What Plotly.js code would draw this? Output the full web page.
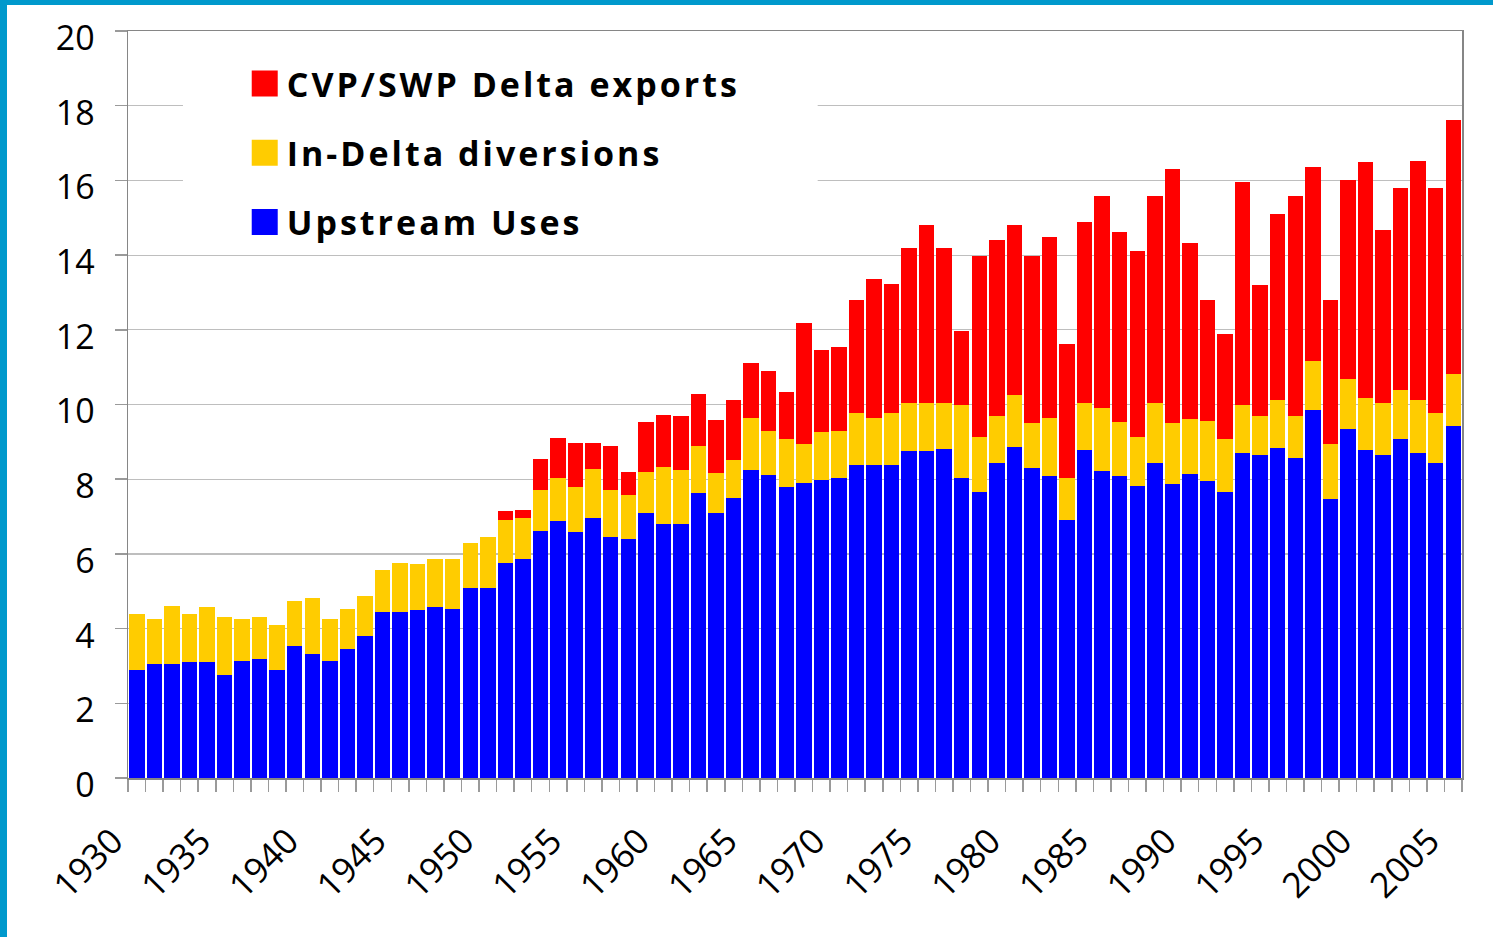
<!DOCTYPE html>
<html>
<head>
<meta charset="utf-8">
<script src="https://cdn.plot.ly/plotly-3.0.1.min.js"></script>
<style>
  html, body { margin: 0; padding: 0; background: #fff; }
  #chart { position: absolute; left: 0; top: 0; width: 1493px; height: 937px; }
  #frameTop { position: absolute; left: 0; top: 0; width: 1493px; height: 5px; background: #0099CC; }
  #frameLeft { position: absolute; left: 0; top: 0; width: 7px; height: 937px; background: #0099CC; }
  .legendtext { letter-spacing: 3px; }
</style>
</head>
<body>
<div id="chart"></div>
<div id="frameTop"></div>
<div id="frameLeft"></div>
<script>
// Years 1930 .. 2005
const years = [1930,1931,1932,1933,1934,1935,1936,1937,1938,1939,
               1940,1941,1942,1943,1944,1945,1946,1947,1948,1949,
               1950,1951,1952,1953,1954,1955,1956,1957,1958,1959,
               1960,1961,1962,1963,1964,1965,1966,1967,1968,1969,
               1970,1971,1972,1973,1974,1975,1976,1977,1978,1979,
               1980,1981,1982,1983,1984,1985,1986,1987,1988,1989,
               1990,1991,1992,1993,1994,1995,1996,1997,1998,1999,
               2000,2001,2002,2003,2004,2005];

const upstreamUses = [2.89,3.05,3.05,3.11,3.11,2.76,3.13,3.19,2.89,3.53,
                      3.32,3.13,3.45,3.80,4.44,4.44,4.50,4.58,4.52,5.09,
                      5.09,5.75,5.86,6.61,6.88,6.59,6.96,6.46,6.41,7.10,
                      6.80,6.80,7.62,7.10,7.49,8.25,8.12,7.78,7.91,7.97,
                      8.02,8.37,8.37,8.37,8.75,8.75,8.80,8.02,7.66,8.43,
                      8.86,8.30,8.09,6.91,8.78,8.22,8.09,7.82,8.43,7.87,
                      8.14,7.95,7.66,8.70,8.65,8.84,8.57,9.85,7.47,9.34,
                      8.78,8.65,9.08,8.70,8.43,9.42];

const inDeltaDiversions = [1.50,1.21,1.56,1.28,1.47,1.55,1.13,1.12,1.21,1.21,
                           1.50,1.13,1.07,1.07,1.13,1.31,1.22,1.29,1.35,1.21,
                           1.36,1.17,1.11,1.10,1.16,1.19,1.32,1.24,1.16,1.10,
                           1.53,1.45,1.27,1.07,1.02,1.38,1.16,1.29,1.03,1.30,
                           1.28,1.40,1.28,1.40,1.30,1.30,1.25,1.98,1.47,1.26,
                           1.39,1.21,1.55,1.12,1.26,1.69,1.43,1.32,1.61,1.64,
                           1.47,1.61,1.42,1.29,1.04,1.28,1.12,1.31,1.47,1.34,
                           1.39,1.39,1.31,1.42,1.34,1.39];

const deltaExports = [0,0,0,0,0,0,0,0,0,0,
                      0,0,0,0,0,0,0,0,0,0,
                      0,0.23,0.21,0.83,1.05,1.19,0.69,1.19,0.63,1.32,
                      1.40,1.45,1.40,1.41,1.62,1.49,1.62,1.26,3.23,2.19,
                      2.24,3.03,3.71,3.46,4.14,4.76,4.14,1.97,4.85,4.71,
                      4.56,4.47,4.84,3.59,4.85,5.67,5.10,4.97,5.54,6.80,
                      4.71,3.24,2.81,5.97,3.51,4.98,5.89,5.20,3.86,5.33,
                      6.32,4.63,5.41,6.40,6.03,6.81];

const seriesNames = ['Upstream Uses', 'In-Delta diversions', 'CVP/SWP Delta exports'];
const tickYears = [1930,1935,1940,1945,1950,1955,1960,1965,1970,1975,1980,1985,1990,1995,2000,2005];
const tickLabels = tickYears.map(String);
const yTicks = [0,2,4,6,8,10,12,14,16,18,20];

const traces = [
  {type:'bar', name: seriesNames[0], x: years, y: upstreamUses, marker:{color:'#0000FF'}, legendgroup:'a', legendrank:3},
  {type:'bar', name: seriesNames[1], x: years, y: inDeltaDiversions, marker:{color:'#FFCC00'}, legendgroup:'b', legendrank:2},
  {type:'bar', name: seriesNames[2], x: years, y: deltaExports, marker:{color:'#FF0000'}, legendgroup:'c', legendrank:1}
];

const layout = {
  width: 1493, height: 937,
  margin: {l:128, r:31, t:31, b:159},
  paper_bgcolor:'#fff', plot_bgcolor:'#fff',
  barmode:'stack', bargap: 0.12,
  font: {family:'"Open Sans", sans-serif', color:'#000'},
  showlegend: true,
  legend: {
    x: 0.086, y: 0.968, xanchor:'left', yanchor:'top',
    bgcolor:'rgba(0,0,0,0)', borderwidth:0,
    traceorder:'grouped', tracegroupgap: 22,
    itemwidth: 34,
    font:{family:'"Open Sans", sans-serif', size:34, color:'#000', weight:'bold'}
  },
  xaxis: {
    type:'linear', range:[1929.5, 2005.5],
    tickmode:'array', tickvals: tickYears, ticktext: tickLabels,
    tickangle:-45, ticks:'', ticklabelstandoff: 27, ticklabelshift: -24,
    tickfont:{size:35, family:'"Open Sans", sans-serif'},
    showgrid:false, zeroline:false,
    showline:true, linecolor:'#868686', linewidth:1.5, mirror:true,
    minor:{tickmode:'linear', tick0:1929.5, dtick:1, ticks:'outside', ticklen:12, tickcolor:'#9a9a9a', tickwidth:1.5, showgrid:false}
  },
  yaxis: {
    range:[0,20], tickmode:'array', tickvals: yTicks,
    ticks:'outside', ticklen:12, tickcolor:'#9a9a9a', tickwidth:1.5,
    ticklabelstandoff: 13, ticklabelshift: 7,
    tickfont:{size:34, family:'"Open Sans", sans-serif'},
    showgrid:true, gridcolor:'#BEBEBE', gridwidth:1.2,
    zeroline:false,
    showline:true, linecolor:'#868686', linewidth:1.5, mirror:true
  },
  shapes: [
    {type:'rect', xref:'paper', yref:'paper', x0:0.0412, x1:0.517, y0:0.71, y1:0.97,
     fillcolor:'#fff', line:{width:0}, layer:'above'}
  ]
};

Plotly.newPlot('chart', traces, layout, {displayModeBar:false, staticPlot:true}).then(function(gd){
  // enlarge legend swatches to match the reference's square keys
  document.querySelectorAll('.legendpoints path').forEach(function(p){
    p.setAttribute('d','M13,13H-13V-13H13Z');
  });
});
</script>
</body>
</html>
